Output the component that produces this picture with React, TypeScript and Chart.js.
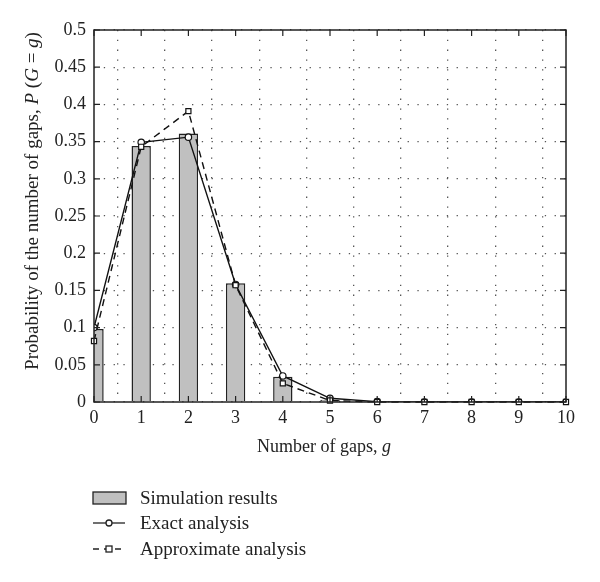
import React, { useEffect, useRef } from "react";
import { Chart, registerables } from "chart.js";

Chart.register(...registerables);

const gaps = [0, 1, 2, 3, 4, 5, 6, 7, 8, 9, 10];
const simulation = [0.098, 0.344, 0.361, 0.1595, 0.034, 0.003, 0, 0, 0, 0, 0];
const exact = [0.1, 0.349, 0.356, 0.158, 0.035, 0.005, 0.0005, 0, 0, 0, 0];
const approximate = [0.082, 0.343, 0.391, 0.157, 0.025, 0.002, 0, 0, 0, 0, 0];
const legendLabels = ["Simulation results", "Exact analysis", "Approximate analysis"];
const xTitle = ["Number of gaps, ", "g"];
const yTitle = ["Probability of the number of gaps, ", "P", " (", "G", " = ", "g", ")"];

const FONT = "'Liberation Serif', 'Times New Roman', serif";

function drawMixed(ctx: CanvasRenderingContext2D, parts: string[], italicIdx: number[], x: number, y: number, size: number) {
  const fonts = parts.map((_, i) => (italicIdx.includes(i) ? `italic ${size}px ${FONT}` : `${size}px ${FONT}`));
  let total = 0;
  const widths = parts.map((p, i) => {
    ctx.font = fonts[i];
    const w = ctx.measureText(p).width;
    total += w;
    return w;
  });
  let cx = x - total / 2;
  ctx.textAlign = "left";
  ctx.textBaseline = "middle";
  parts.forEach((p, i) => {
    ctx.font = fonts[i];
    ctx.fillText(p, cx, y);
    cx += widths[i];
  });
}

const decorPlugin = {
  id: "decor",
  afterDraw(chart: any) {
    const ctx = chart.ctx as CanvasRenderingContext2D;
    const { left, right, top, bottom } = chart.chartArea;
    const xs = chart.scales.x;
    const ys = chart.scales.y;
    ctx.save();
    ctx.strokeStyle = "#222";
    ctx.lineWidth = 1.5;
    ctx.setLineDash([]);
    ctx.strokeRect(left, top, right - left, bottom - top);
    const tl = 6;
    ctx.lineWidth = 1.2;
    ctx.beginPath();
    xs.ticks.forEach((t: any) => {
      const px = xs.getPixelForValue(t.value);
      ctx.moveTo(px, top);
      ctx.lineTo(px, top + tl);
      ctx.moveTo(px, bottom);
      ctx.lineTo(px, bottom - tl);
    });
    ys.ticks.forEach((t: any) => {
      const py = ys.getPixelForValue(t.value);
      ctx.moveTo(left, py);
      ctx.lineTo(left + tl, py);
      ctx.moveTo(right, py);
      ctx.lineTo(right - tl, py);
    });
    ctx.stroke();

    ctx.fillStyle = "#222";
    drawMixed(ctx, xTitle, [1], 324, 447, 18);
    ctx.save();
    ctx.translate(33, 201);
    ctx.rotate(-Math.PI / 2);
    drawMixed(ctx, yTitle, [1, 3, 5], 0, 0, 19);
    ctx.restore();

    const lx = 93;
    const tx = 140;
    const rows = [498, 523, 549];
    ctx.font = `19px ${FONT}`;
    ctx.textAlign = "left";
    ctx.textBaseline = "middle";
    ctx.fillStyle = "#c0c0c0";
    ctx.fillRect(lx, rows[0] - 6, 33, 12);
    ctx.strokeStyle = "#222";
    ctx.lineWidth = 1.3;
    ctx.strokeRect(lx, rows[0] - 6, 33, 12);
    ctx.beginPath();
    ctx.moveTo(lx, rows[1]);
    ctx.lineTo(lx + 32, rows[1]);
    ctx.stroke();
    ctx.beginPath();
    ctx.arc(lx + 16, rows[1], 3, 0, Math.PI * 2);
    ctx.fillStyle = "#fff";
    ctx.fill();
    ctx.stroke();
    ctx.setLineDash([6, 5]);
    ctx.beginPath();
    ctx.moveTo(lx, rows[2]);
    ctx.lineTo(lx + 32, rows[2]);
    ctx.stroke();
    ctx.setLineDash([]);
    ctx.fillStyle = "#fff";
    ctx.fillRect(lx + 13, rows[2] - 3, 6, 6);
    ctx.strokeRect(lx + 13, rows[2] - 3, 6, 6);
    ctx.fillStyle = "#222";
    legendLabels.forEach((l, i) => ctx.fillText(l, tx, rows[i] + 1));
    ctx.restore();
  },
};

export default function App() {
  const ref = useRef<HTMLCanvasElement | null>(null);
  useEffect(() => {
    document.body.style.margin = "0";
    const canvas = ref.current;
    if (!canvas) return;
    const chart = new Chart(canvas, {
      type: "bar",
      data: {
        datasets: [
          {
            type: "line",
            label: legendLabels[1],
            data: gaps.map((g, i) => ({ x: g, y: exact[i] })),
            borderColor: "#111",
            borderWidth: 1.4,
            pointStyle: "circle",
            pointRadius: 3.2,
            pointBackgroundColor: "#fff",
            pointBorderColor: "#111",
            pointBorderWidth: 1.2,
            tension: 0,
            order: 1,
          } as any,
          {
            type: "line",
            label: legendLabels[2],
            data: gaps.map((g, i) => ({ x: g, y: approximate[i] })),
            borderColor: "#111",
            borderWidth: 1.4,
            borderDash: [7, 5],
            pointStyle: "rect",
            pointRadius: 3.6,
            pointBackgroundColor: "#fff",
            pointBorderColor: "#111",
            pointBorderWidth: 1.2,
            tension: 0,
            clip: false,
            order: 0,
          } as any,
          {
            type: "bar",
            label: legendLabels[0],
            data: gaps.map((g, i) => ({ x: g, y: simulation[i] })),
            backgroundColor: "#c0c0c0",
            borderColor: "#222",
            borderWidth: 1.5,
            barPercentage: 0.41,
            categoryPercentage: 1,
            order: 3,
          } as any,
        ],
      },
      options: {
        animation: false,
        responsive: false,
        layout: { padding: { left: 0, right: 34, top: 30, bottom: 0 } },
        plugins: { legend: { display: false }, tooltip: { enabled: false } },
        scales: {
          x: {
            type: "linear",
            min: 0,
            max: 10,
            offset: false,
            afterFit: (s: any) => {
              s.height = 180;
            },
            ticks: {
              stepSize: 1,
              color: "#222",
              font: { family: FONT, size: 18 },
              padding: 5,
              maxRotation: 0,
            },
            grid: {
              color: "#555",
              lineWidth: 1.3,
              drawTicks: false,
            },
            border: { display: false, dash: [1.3, 8.5] },
          },
          y: {
            min: 0,
            max: 0.5,
            afterFit: (s: any) => {
              s.width = 94;
            },
            ticks: {
              stepSize: 0.05,
              color: "#222",
              font: { family: FONT, size: 18 },
              padding: 8,
              callback: (v: any) => String(Math.round(Number(v) * 100) / 100),
            },
            grid: {
              color: "#555",
              lineWidth: 1.3,
              drawTicks: false,
            },
            border: { display: false, dash: [1.3, 8.5] },
          },
        },
      },
      plugins: [decorPlugin],
    } as any);
    return () => chart.destroy();
  }, []);
  return (
    <div style={{ width: 600, height: 582, background: "#fff" }}>
      <canvas ref={ref} width={600} height={582} style={{ display: "block" }} />
    </div>
  );
}
